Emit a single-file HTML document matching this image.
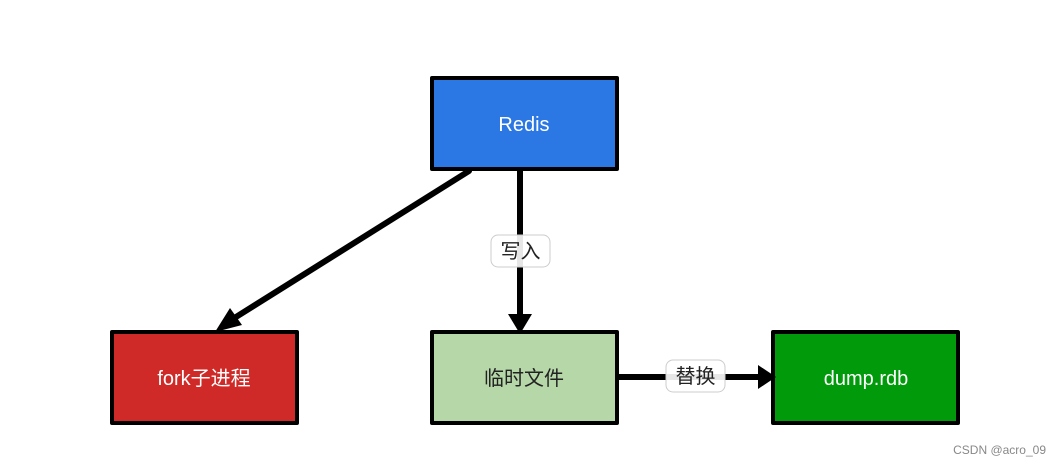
<!DOCTYPE html>
<html><head><meta charset="utf-8"><style>
html,body{margin:0;padding:0;background:#fff;width:1061px;height:465px;overflow:hidden}
svg text{font-family:"Liberation Sans","Noto Sans CJK SC",sans-serif}
</style></head><body>
<svg width="1061" height="465" viewBox="0 0 1061 465" xmlns="http://www.w3.org/2000/svg">
<g stroke="#000" stroke-width="4" stroke-linejoin="round">
<rect x="432" y="78" width="185" height="91" fill="#2b77e3"/>
<rect x="112" y="332" width="185" height="91" fill="#d02a28"/>
<rect x="432" y="332" width="185" height="91" fill="#b6d7a8"/>
<rect x="773" y="332" width="185" height="91" fill="#009a0a"/>
</g>
<g stroke="#000" stroke-width="6" stroke-linecap="round" fill="none">
<line x1="469" y1="171" x2="228" y2="322"/>
<line x1="520" y1="171" x2="520" y2="320"/>
<line x1="619" y1="377" x2="762" y2="377"/>
</g>
<g fill="#000">
<polygon points="215,332 230,308 242,325"/>
<polygon points="508,314 532,314 520,334"/>
<polygon points="758,365 758,389 776,377"/>
</g>
<rect x="491" y="235" width="59" height="32" rx="7" fill="#fff" fill-opacity="0.9" stroke="#ccc"/>
<text x="520.5" y="258" font-size="20" text-anchor="middle" fill="#222">写入</text>
<rect x="666" y="360" width="59" height="32" rx="7" fill="#fff" fill-opacity="0.9" stroke="#ccc"/>
<text x="695.5" y="383" font-size="20" text-anchor="middle" fill="#222">替换</text>
<text x="524" y="131" font-size="20" text-anchor="middle" fill="#fff">Redis</text>
<text x="204" y="385" font-size="20" text-anchor="middle" fill="#fff">fork子进程</text>
<text x="524" y="385" font-size="20" text-anchor="middle" fill="#222">临时文件</text>
<text x="866" y="385" font-size="20" text-anchor="middle" fill="#fff">dump.rdb</text>
<text x="1046" y="454" font-size="12" text-anchor="end" fill="#888">CSDN @acro_09</text>
</svg>
</body></html>
